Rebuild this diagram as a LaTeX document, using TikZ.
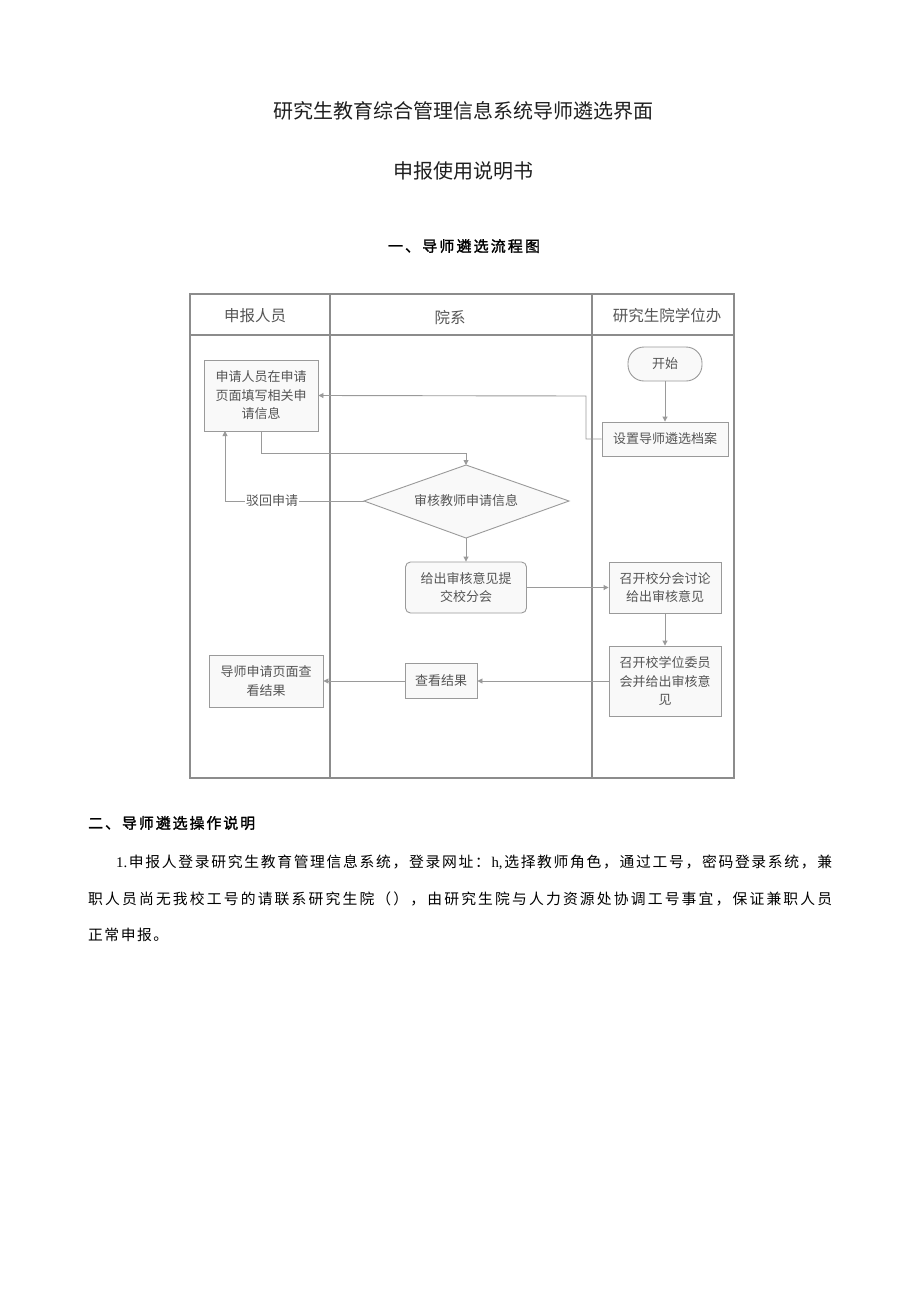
\documentclass[tikz,border=0pt]{standalone}
\usepackage{fontspec}
\setmainfont{Noto Sans CJK SC}
\newfontfamily\secfont{Noto Sans CJK SC}[FakeBold=1.6]
\newfontfamily\lserif{Liberation Serif}
\usetikzlibrary{arrows.meta}
\definecolor{ln}{HTML}{9A9A9A}
\definecolor{tx}{HTML}{555555}
\definecolor{fr}{HTML}{8C8C8C}
\definecolor{bf}{HTML}{F9F9F9}
\def\sprstopmark{\relax}
\def\spr#1{\sprB#1\relax}
\def\sprB#1{#1\sprA}
\def\sprA#1{\def\sprtmp{#1}\ifx\sprtmp\sprstopmark\else\hskip0pt plus 1fil#1\expandafter\sprA\fi}
\begin{document}
\begin{tikzpicture}[x=1pt,y=-1pt,
  box/.style={draw=ln, fill=bf, line width=0.9pt, text=tx, font=\fontsize{13}{18.5}\selectfont, align=center, inner sep=0pt},
  lbl/.style={text=tx, font=\fontsize{13}{18.5}\selectfont, inner sep=1pt},
  conn/.style={draw=ln, line width=0.9pt, -{Triangle[width=5pt,length=5pt]}},
  plain/.style={draw=ln, line width=0.9pt},
  hdr/.style={text=tx, font=\fontsize{15.5}{18}\selectfont},
  ttl/.style={text=black!88, font=\fontsize{20}{24}\selectfont, inner sep=0pt},
  sec/.style={text=black, font=\secfont\fontsize{15}{18}\selectfont, inner sep=0pt},
  para/.style={text=black, font=\fontsize{14.8}{18}\selectfont, inner sep=0pt, anchor=west}]
\useasboundingbox (0,0) rectangle (920,1301);
\fill[white] (0,0) rectangle (920,1301);

% titles
\node[ttl] (t1) at (463,111) {研究生教育综合管理信息系统导师遴选界面};
\node[ttl] (t2) at (463,171) {申报使用说明书};
\node[sec] (s1) at (464,246) {\hbox to 152pt{\spr{一、导师遴选流程图}}};

% swimlane frame
\draw[fr, line width=1.2pt] (190,294) rectangle (734,778);
\draw[fr, line width=1.2pt] (190,335) -- (734,335);
\draw[fr, line width=1.2pt] (330,294) -- (330,778);
\draw[fr, line width=1.2pt] (592,294) -- (592,778);
\node[hdr] (h1) at (255,316) {申报人员};
\node[hdr] (h2) at (450,318) {院系};
\node[hdr] (h3) at (667,316) {研究生院学位办};

% nodes
\node[box, minimum width=114, minimum height=71] (apply) at (261,395.5) {申请人员在申请\\页面填写相关申\\请信息};
\node[box, rounded corners=16, minimum width=74, minimum height=34] (start) at (665,364) {开始};
\node[box, minimum width=126, minimum height=34] (set) at (665,439) {设置导师遴选档案};
\coordinate (dt) at (466,465);
\coordinate (dr) at (569,501);
\coordinate (db) at (466,538);
\coordinate (dl) at (364,501);
\draw[ln, line width=0.9pt, fill=bf] (dt) -- (dr) -- (db) -- (dl) -- cycle;
\node[lbl] (dia) at (466,501) {审核教师申请信息};
\node[box, rounded corners=5, minimum width=121, minimum height=51] (give) at (466,587.5) {给出审核意见提\\交校分会};
\node[box, minimum width=112, minimum height=51] (meet1) at (665,587.5) {召开校分会讨论\\给出审核意见};
\node[box, minimum width=112, minimum height=70] (meet2) at (665,681) {召开校学位委员\\会并给出审核意\\见};
\node[box, minimum width=72, minimum height=35] (view) at (441,681) {查看结果};
\node[box, minimum width=114, minimum height=52] (res) at (266,681) {导师申请页面查\\看结果};
\node[lbl, fill=white] (rej) at (272,501) {驳回申请};

% connectors
\coordinate (c1) at (586,396);
\coordinate (c2) at (261,453);
\coordinate (c3) at (225,431);
\draw[conn] (start) -- (set);
\draw[conn] (set.west) -| (c1) -- (apply.east);
\draw[conn] (apply.south) -- (c2) -| (dt);
\draw[plain] (dl) -- (rej.east);
\draw[conn] (rej.west) -| (c3);
\draw[conn] (db) -- (give);
\draw[conn] (give) -- (meet1);
\draw[conn] (meet1) -- (meet2);
\draw[conn] (meet2) -- (view);
\draw[conn] (view) -- (res);

% section 2
\node[sec, anchor=west] (s2) at (88,823) {\hbox to 167pt{\spr{二、导师遴选操作说明}}};
\node[para] (p1) at (116,862) {\hbox to 716pt{\spr{{{\lserif 1.}}申报人登录研究生教育管理信息系统，登录网址：{{\lserif h,}}选择教师角色，通过工号，密码登录系统，兼}}};
\node[para] (p2) at (88,899) {\hbox to 744pt{\spr{职人员尚无我校工号的请联系研究生院（），由研究生院与人力资源处协调工号事宜，保证兼职人员}}};
\node[para] (p3) at (88,935) {\hbox to 80pt{\spr{正常申报。}}};
\end{tikzpicture}
\end{document}
